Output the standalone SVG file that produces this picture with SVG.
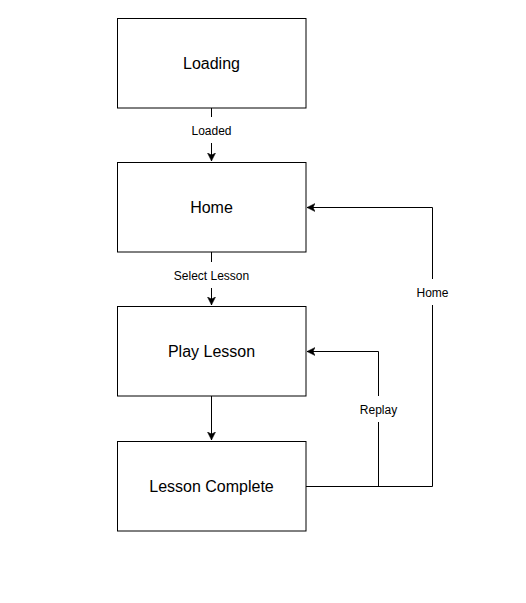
<svg xmlns="http://www.w3.org/2000/svg" width="526" height="603" viewBox="0 0 526 603">
<style>
.node{fill:#fff;stroke:#000;stroke-width:1}
.nl{font-family:"Liberation Sans",Arial,sans-serif;font-size:16px;fill:#000;text-anchor:middle;dominant-baseline:central}
.el{font-family:"Liberation Sans",Arial,sans-serif;font-size:12px;fill:#000;text-anchor:middle;dominant-baseline:central}
.edge{fill:none;stroke:#000;stroke-width:1}
.lbg{fill:#fff}
</style>
<defs>
<marker id="arr" markerWidth="9" markerHeight="9" refX="8" refY="4" orient="auto" markerUnits="userSpaceOnUse">
<path d="M0,0 L8,4 L0,8 L2,4 Z" fill="#000" stroke="#000" stroke-width="0.5"/>
</marker>
</defs>
<rect width="526" height="603" fill="#fff"/>
<g id="connectors">
<path class="edge" d="M211.5,108 L211.5,161" marker-end="url(#arr)"/>
<path class="edge" d="M211.5,252 L211.5,305" marker-end="url(#arr)"/>
<path class="edge" d="M211.5,396 L211.5,440" marker-end="url(#arr)"/>
<path class="edge" d="M306,486.5 L432.5,486.5 L432.5,207.5 L307,207.5" marker-end="url(#arr)"/>
<path class="edge" d="M306,486.5 L378.5,486.5 L378.5,351.5 L307,351.5" marker-end="url(#arr)"/>
<rect class="lbg" x="189" y="117" width="45" height="26"/>
<text class="el" x="211.5" y="130.5">Loaded</text>
<rect class="lbg" x="172" y="262" width="79" height="26"/>
<text class="el" x="211.5" y="275.5">Select Lesson</text>
<rect class="lbg" x="413" y="279" width="39" height="26"/>
<text class="el" x="432.5" y="292.5">Home</text>
<rect class="lbg" x="357" y="396" width="43" height="26"/>
<text class="el" x="378.5" y="410">Replay</text>
</g>
<g id="loading">
<rect class="node" x="117.5" y="18.5" width="188.5" height="89.5"/>
<text class="nl" x="211.5" y="63.5">Loading</text>
</g>
<g id="home">
<rect class="node" x="117.5" y="162.5" width="188.5" height="89.5"/>
<text class="nl" x="211.5" y="207.5">Home</text>
</g>
<g id="play-lesson">
<rect class="node" x="117.5" y="306.5" width="188.5" height="89.5"/>
<text class="nl" x="211.5" y="351.5">Play Lesson</text>
</g>
<g id="lesson-complete">
<rect class="node" x="117.5" y="441.5" width="188.5" height="89.5"/>
<text class="nl" x="211.5" y="486.5">Lesson Complete</text>
</g>
</svg>
